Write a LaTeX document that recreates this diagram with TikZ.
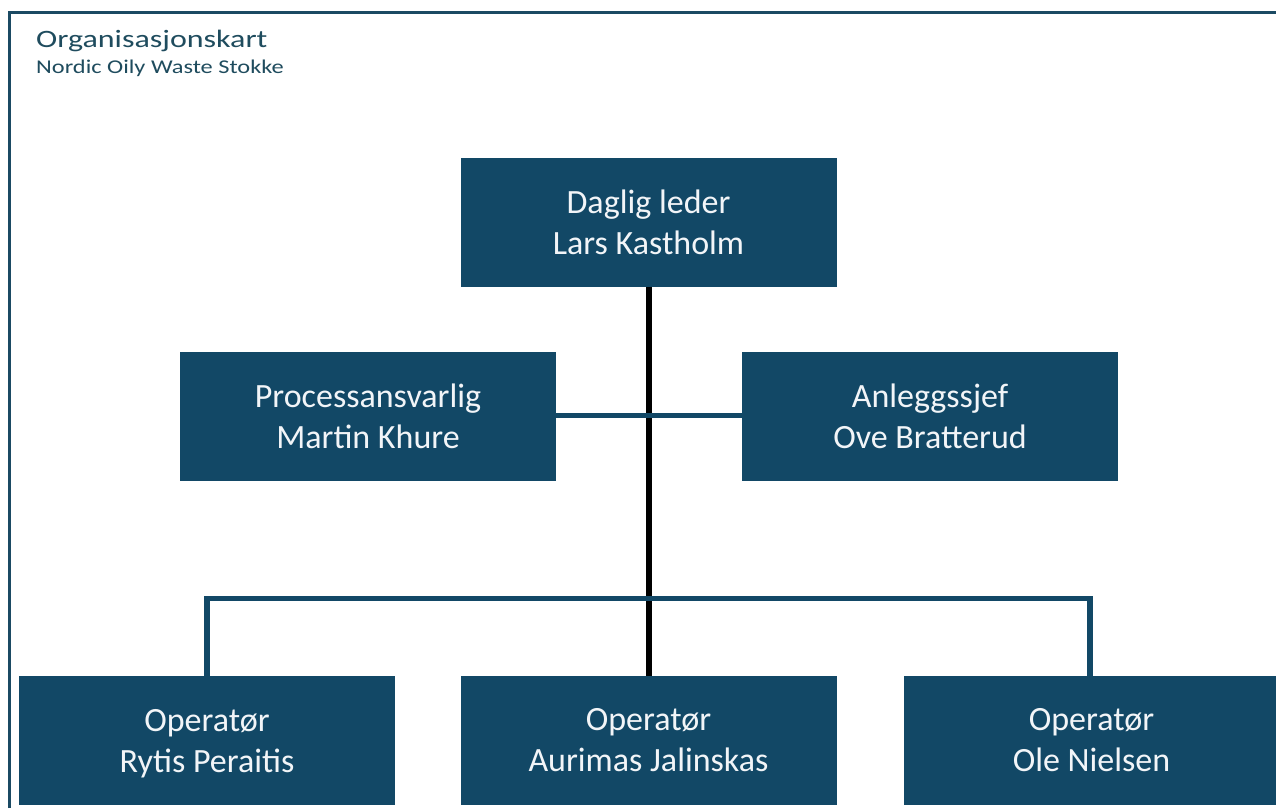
\documentclass[tikz,border=0pt]{standalone}
\usepackage{graphicx}
\usepackage{fontspec}
\setmainfont{Carlito}
\definecolor{boxblue}{HTML}{124866}
\definecolor{frameblue}{HTML}{1B4A63}
\definecolor{titleblue}{HTML}{1F4C5E}
\definecolor{boxtext}{HTML}{F2F5F8}
\newcommand{\nodepth}[1]{\raisebox{0pt}[\height][0pt]{#1}}
\tikzset{
  orgbox/.style={fill=boxblue, draw=none, minimum width=376pt, minimum height=129pt,
    inner sep=0pt, align=center, text=boxtext, font=\fontsize{34}{41}\selectfont},
  toplink/.style={draw=black, line width=6pt},
  sublink/.style={draw=boxblue, line width=5.5pt},
}
\begin{document}
\begin{tikzpicture}[x=1pt,y=-1pt]
\useasboundingbox (0,0) rectangle (1276,808);
\begin{scope}
\clip (0,0) rectangle (1276,808);
\fill[white] (0,0) rectangle (1276,808);
\draw[frameblue, line width=3pt] (9,808) -- (9,13) -- (1280,13);

\node[anchor=base west, inner sep=0pt, text=titleblue, font=\fontsize{25}{30}\selectfont] (title) at (36,48) {\scalebox{1.28}[1]{Organisasjonskart}};
\node[anchor=base west, inner sep=0pt, text=titleblue, font=\fontsize{19.5}{23}\selectfont] (subtitle) at (36,74) {\scalebox{1.25}[1]{Nordic Oily Waste Stokke}};

\node[orgbox] (ceo) at (648.5,222) {Daglig leder\\Lars Kastholm};
\node[orgbox] (proc) at (368,416.5) {Processansvarlig\\Martin Khure};
\node[orgbox] (anl) at (930,416.5) {Anleggssjef\\Ove Bratterud};
\node[orgbox] (op1) at (207,740.5) {Operatør\\\nodepth{Rytis Peraitis}};
\node[orgbox] (op2) at (648.5,740.5) {Operatør\\Aurimas Jalinskas};
\node[orgbox] (op3) at (1091.5,740.5) {Operatør\\Ole Nielsen};

\coordinate (busL) at (207,598.5);
\coordinate (busR) at (1090,598.5);

\draw[toplink] (ceo.south) -- (op2.north);
\draw[sublink] (proc.east |- 0,415.5) -- (anl.west |- 0,415.5);
\draw[sublink] (op1.north) -- (busL) -- (busR) -- (busR |- op3.north);
\end{scope}
\end{tikzpicture}
\end{document}
